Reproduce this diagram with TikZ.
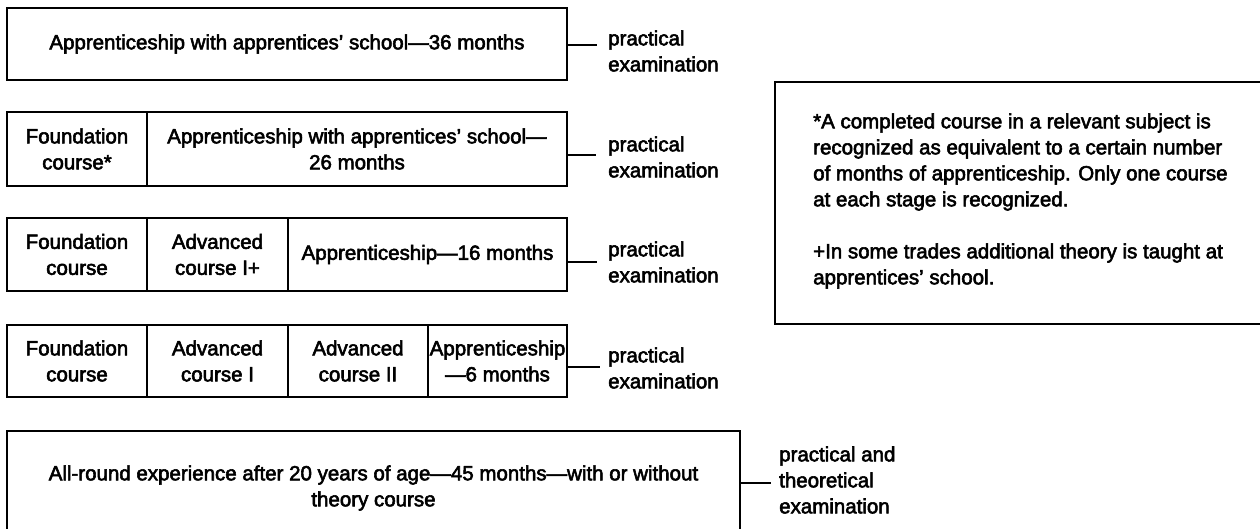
\documentclass[tikz,border=0pt]{standalone}
\usepackage{fontspec}
\setmainfont{Liberation Sans}
\newcommand{\heavytext}{\special{pdf:literal direct 2 Tr 0.55 w}}
\newcommand{\myfs}{\fontsize{20.5}{26}\selectfont\heavytext}
\begin{document}
\begin{tikzpicture}[x=1pt,y=-1pt,
  box/.style={draw, line width=2pt, align=center, inner sep=0pt, font=\myfs},
  lab/.style={anchor=west, align=left, inner sep=0pt, font=\myfs},
  conn/.style={line width=2pt}]
\useasboundingbox (0,0) rectangle (1260,529);
\clip (0,0) rectangle (1260,529);
\fill[white] (0,0) rectangle (1260,529);

% Row 1
\node[box, minimum width=560pt, minimum height=72pt] (r1) at (287,44) {Apprenticeship with apprentices' school—36 months};
\node[lab] (l1) at (608,51) {practical\\examination};
\coordinate (c1) at (597,45);
\draw[conn] (r1.east |- c1) -- (c1);

% Row 2
\node[box, minimum width=140pt, minimum height=74pt] (r2a) at (77,149) {Foundation\\course*};
\node[box, minimum width=420pt, minimum height=74pt] (r2b) at (357,149) {Apprenticeship with apprentices' school—\\26 months};
\node[lab] (l2) at (608,157) {practical\\examination};
\coordinate (c2) at (596,155);
\draw[conn] (r2b.east |- c2) -- (c2);

% Row 3
\node[box, minimum width=140pt, minimum height=73pt] (r3a) at (77,254.5) {Foundation\\course};
\node[box, minimum width=141pt, minimum height=73pt] (r3b) at (217.5,254.5) {Advanced\\course I+};
\node[box, minimum width=279pt, minimum height=73pt] (r3c) at (427.5,254.5) {Apprenticeship—16 months};
\node[lab] (l3) at (608,262) {practical\\examination};
\coordinate (c3) at (597,262);
\draw[conn] (r3c.east |- c3) -- (c3);

% Row 4
\node[box, minimum width=140pt, minimum height=72pt] (r4a) at (77,361) {Foundation\\course};
\node[box, minimum width=141pt, minimum height=72pt] (r4b) at (217.5,361) {Advanced\\course I};
\node[box, minimum width=140pt, minimum height=72pt] (r4c) at (358,361) {Advanced\\course II};
\node[box, minimum width=139pt, minimum height=72pt] (r4d) at (497.5,361) {Apprenticeship\\—6 months};
\node[lab] (l4) at (608,368) {practical\\examination};
\coordinate (c4) at (600,367);
\draw[conn] (r4d.east |- c4) -- (c4);

% Row 5
\node[box, minimum width=733pt, minimum height=114pt] (r5) at (373.5,488) {All-round experience after 20 years of age—45 months—with or without\\theory course};
\node[lab] (l5) at (779,480) {practical and\\theoretical\\examination};
\coordinate (c5) at (771,483);
\draw[conn] (r5.east |- c5) -- (c5);

% Note box
\node[draw, line width=2pt, minimum width=495pt, minimum height=242pt, inner sep=0pt] (note) at (1022.5,203) {};
\node[lab] (notetext) at (813,201) {*A completed course in a relevant subject is\\recognized as equivalent to a certain number\\of months of apprenticeship. Only one course\\at each stage is recognized.\\[26pt]+In some trades additional theory is taught at\\apprentices' school.};
\end{tikzpicture}
\end{document}
